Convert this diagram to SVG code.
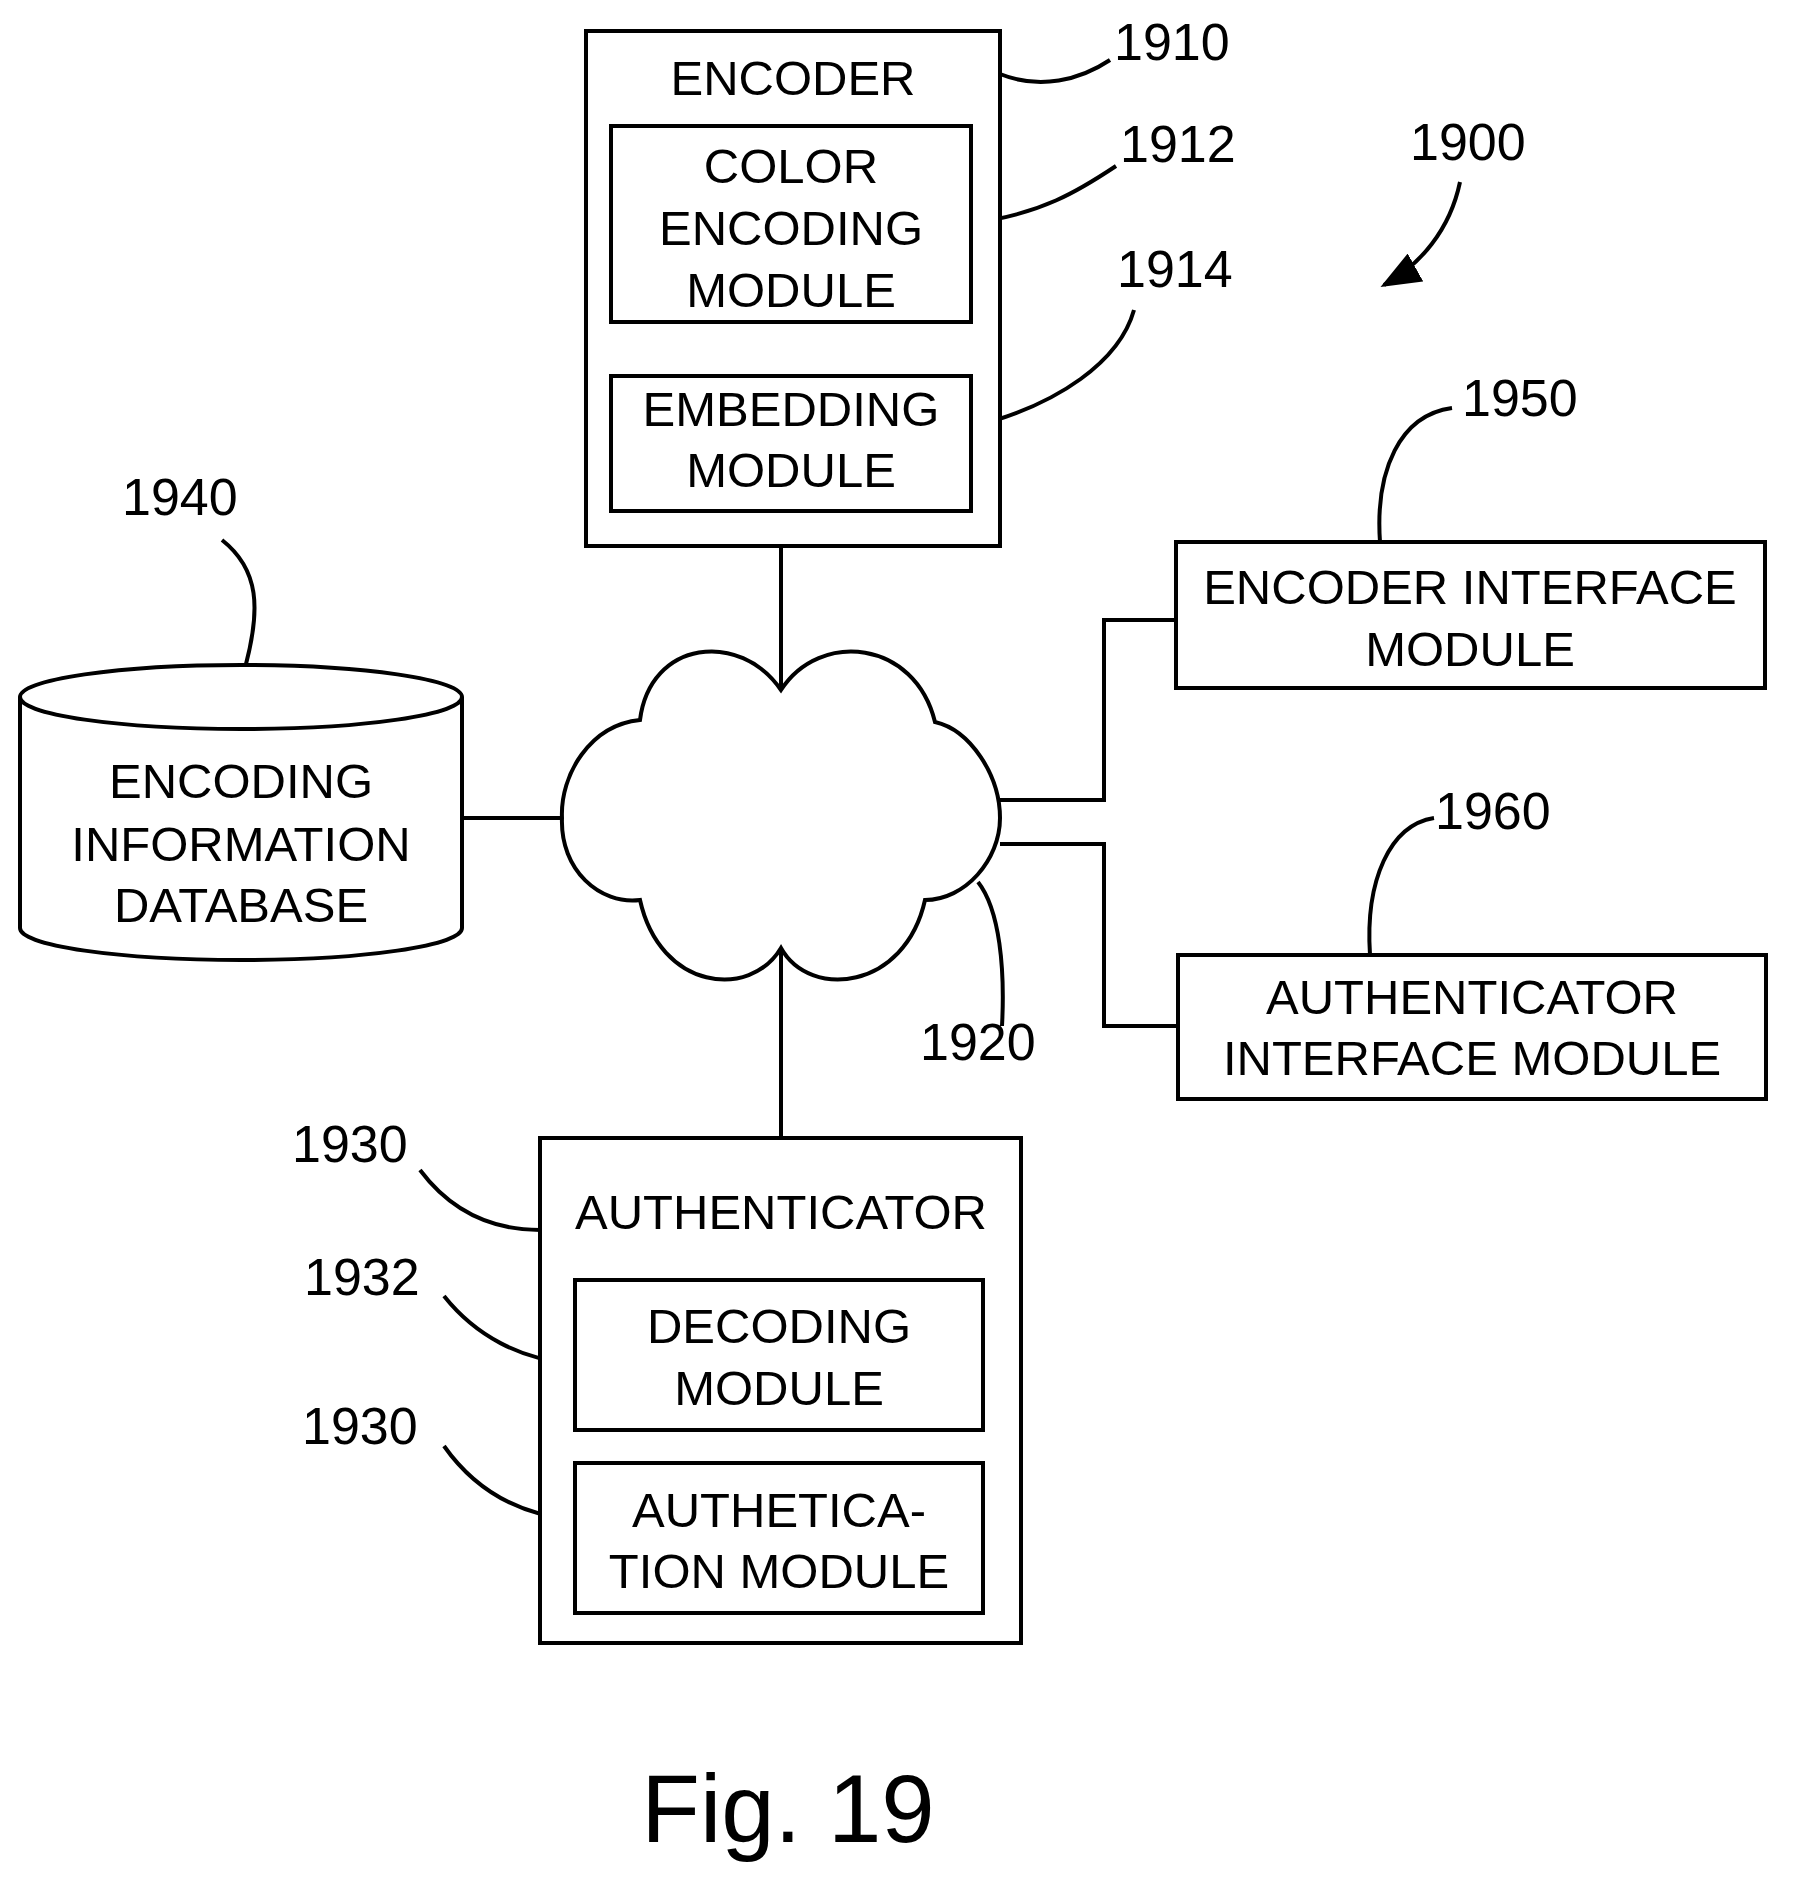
<svg xmlns="http://www.w3.org/2000/svg" width="1799" height="1892" viewBox="0 0 1799 1892">
<style>
.b{fill:#fff;stroke:#000;stroke-width:4}
.l{fill:none;stroke:#000;stroke-width:4}
text{font-family:"Liberation Sans",Arial,sans-serif;font-size:49px;text-anchor:middle;fill:#000}
.n{font-size:52px;text-anchor:start}
</style>
<defs><marker id="ah" markerWidth="10" markerHeight="8" refX="9" refY="4" orient="auto" markerUnits="strokeWidth"><path d="M0,0 L10,4 L0,8 Z" fill="#000"/></marker></defs>
<rect width="1799" height="1892" fill="#fff"/>
<g id="connectors">
<path class="l" d="M781,546 V690"/>
<path class="l" d="M462,818 H562"/>
<path class="l" d="M1000,800 H1104 V620 H1176"/>
<path class="l" d="M1000,844 H1104 V1026 H1178"/>
<path class="l" d="M781,948 V1138"/>
<path class="l" d="M1000,74 C1040,90 1080,80 1110,60"/>
<path class="l" d="M971,223 C1040,215 1080,190 1116,166"/>
<path class="l" d="M971,427 C1060,405 1120,360 1134,310"/>
<path class="l" d="M1460,182 C1450,230 1420,265 1384,285" marker-end="url(#ah)"/>
<path class="l" d="M1380,542 C1375,470 1400,415 1452,408"/>
<path class="l" d="M1370,955 C1365,880 1390,825 1434,818"/>
<path class="l" d="M978,882 C1000,910 1005,970 1002,1026"/>
<path class="l" d="M246,664 C260,610 260,570 222,540"/>
<path class="l" d="M420,1170 C450,1210 490,1230 540,1230"/>
<path class="l" d="M444,1296 C475,1335 520,1360 575,1364"/>
<path class="l" d="M444,1446 C475,1490 520,1515 575,1520"/>
</g>
<g id="encoder">
<rect class="b" x="586" y="31" width="414" height="515"/>
<text x="793" y="95">ENCODER</text>
<text class="n" x="1114" y="60">1910</text>
</g>
<g id="color-encoding">
<rect class="b" x="611" y="126" width="360" height="196"/>
<text x="791" y="183">COLOR</text><text x="791" y="245">ENCODING</text><text x="791" y="307">MODULE</text>
<text class="n" x="1120" y="162">1912</text>
</g>
<g id="embedding">
<rect class="b" x="611" y="376" width="360" height="135"/>
<text x="791" y="426">EMBEDDING</text><text x="791" y="487">MODULE</text>
<text class="n" x="1117" y="287">1914</text>
</g>
<g id="label-1900"><text class="n" x="1410" y="160">1900</text></g>
<g id="network">
<path class="b" d="M781,690 C740,630 650,640 640,720 C590,725 560,775 562,818 C560,870 600,905 640,900 C660,990 750,1000 781,948 C810,1000 905,990 925,900 C965,900 1000,860 1000,818 C1000,775 970,730 935,722 C915,640 820,630 781,690 Z"/>
<text class="n" x="920" y="1060">1920</text>
</g>
<g id="database">
<path class="b" d="M20,697 V928 A221,32 0 0 0 462,928 V697"/>
<ellipse class="b" cx="241" cy="697" rx="221" ry="32"/>
<text x="241" y="798">ENCODING</text><text x="241" y="861">INFORMATION</text><text x="241" y="922">DATABASE</text>
<text class="n" x="122" y="515">1940</text>
</g>
<g id="encoder-interface">
<rect class="b" x="1176" y="542" width="589" height="146"/>
<text x="1470" y="604">ENCODER INTERFACE</text><text x="1470" y="666">MODULE</text>
<text class="n" x="1462" y="416">1950</text>
</g>
<g id="authenticator-interface">
<rect class="b" x="1178" y="955" width="588" height="144"/>
<text x="1472" y="1014">AUTHENTICATOR</text><text x="1472" y="1075">INTERFACE MODULE</text>
<text class="n" x="1435" y="829">1960</text>
</g>
<g id="authenticator">
<rect class="b" x="540" y="1138" width="481" height="505"/>
<text x="781" y="1229">AUTHENTICATOR</text>
<text class="n" x="292" y="1162">1930</text>
</g>
<g id="decoding">
<rect class="b" x="575" y="1280" width="408" height="150"/>
<text x="779" y="1343">DECODING</text><text x="779" y="1405">MODULE</text>
<text class="n" x="304" y="1295">1932</text>
</g>
<g id="authentication">
<rect class="b" x="575" y="1463" width="408" height="150"/>
<text x="779" y="1527">AUTHETICA-</text><text x="779" y="1588">TION MODULE</text>
<text class="n" x="302" y="1444">1930</text>
</g>
<text x="788" y="1842" style="font-size:96px">Fig. 19</text>
</svg>
